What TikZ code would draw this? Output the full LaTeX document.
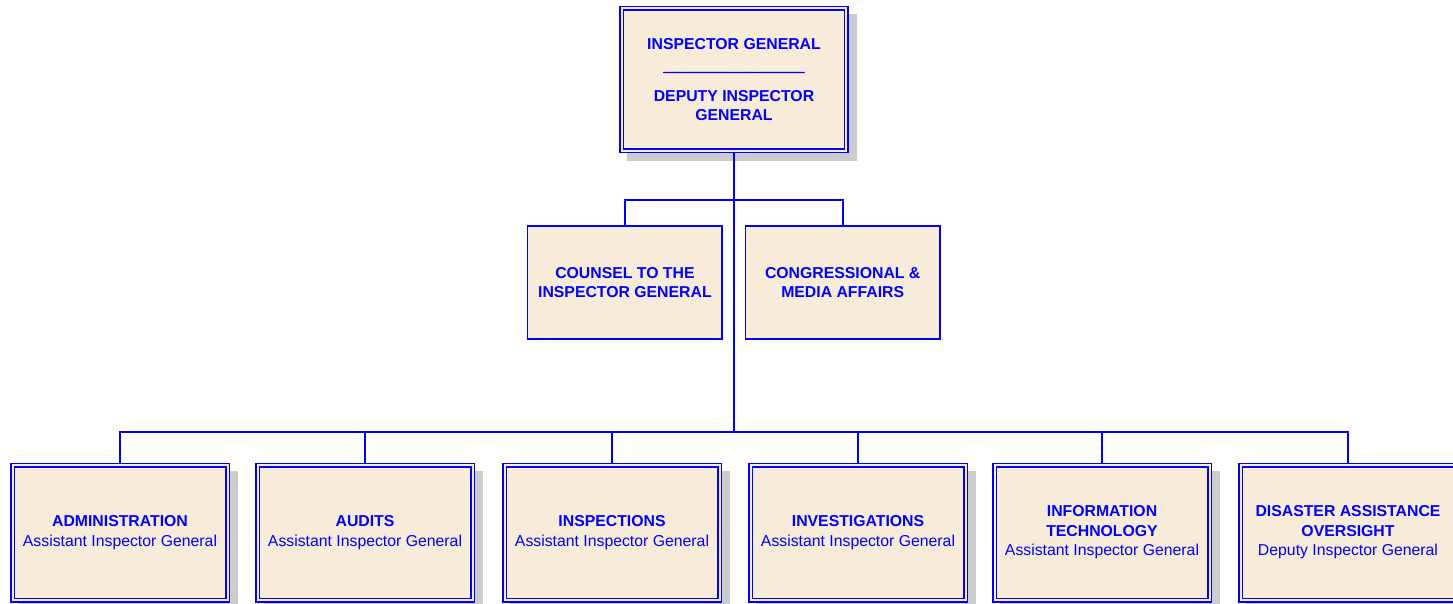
\documentclass[tikz,border=0pt]{standalone}
\usepackage{fontspec}
\setmainfont{Liberation Sans}
\newfontface\ocrulefont{Liberation Sans Bold}[RawFeature={embolden=4}]
\usetikzlibrary{backgrounds}
\definecolor{ocblue}{RGB}{0,0,255}
\definecolor{ocfill}{RGB}{247,236,218}
\definecolor{ocshadow}{RGB}{204,204,204}
\tikzset{
  unitbox/.style={rectangle, inner sep=0pt, outer sep=0pt, fill=ocfill, draw=ocblue, text=ocblue, align=center, font=\fontsize{15.8}{19.5}\selectfont},
  dblbox/.style={unitbox, line width=1.5pt, double=ocfill, double distance=2pt, minimum width=215pt, minimum height=135pt},
  sglbox/.style={unitbox, line width=1.6pt, minimum width=194.5pt, minimum height=113.5pt},
  link/.style={draw=ocblue, line width=1.8pt},
}
\begin{document}
\begin{tikzpicture}[x=1pt,y=-1pt]
\useasboundingbox (0,0) rectangle (1453,604);
\node[dblbox, minimum width=224.4pt, minimum height=142.6pt] (ig) at (734,79.5)
  {\textbf{INSPECTOR GENERAL}\\[2.3pt]{\ocrulefont\_\_\_\_\_\_\_\_\_\_\_\_\_\_\_\_}\\[11pt]\textbf{DEPUTY INSPECTOR}\\\textbf{GENERAL}};
\node[sglbox] (counsel) at (624.9,282.5) {\textbf{COUNSEL TO THE}\\\textbf{INSPECTOR GENERAL}};
\node[sglbox] (cong) at (842.7,282.5) {\textbf{CONGRESSIONAL \&}\\\textbf{MEDIA AFFAIRS}};
\node[dblbox] (b1) at (120,532.5) {\textbf{ADMINISTRATION}\\Assistant Inspector General};
\node[dblbox] (b2) at (365,532.5) {\textbf{AUDITS}\\Assistant Inspector General};
\node[dblbox] (b3) at (612,532.5) {\textbf{INSPECTIONS}\\Assistant Inspector General};
\node[dblbox] (b4) at (858,532.5) {\textbf{INVESTIGATIONS}\\Assistant Inspector General};
\node[dblbox] (b5) at (1102,532.5) {\textbf{INFORMATION}\\\textbf{TECHNOLOGY}\\Assistant Inspector General};
\node[dblbox] (b6) at (1348,532.5) {\textbf{DISASTER ASSISTANCE}\\\textbf{OVERSIGHT}\\Deputy Inspector General};
\coordinate (bus1) at (734,200);
\coordinate (bus2) at (734,432);
\begin{scope}[on background layer]
  \foreach \n in {ig,b1,b2,b3,b4,b5,b6}
    \fill[ocshadow] ([shift={(5.5,5.5)}]\n.north west) rectangle ([shift={(10.5,10.5)}]\n.south east);
  \draw[link] (ig.south) -- (bus2);
  \draw[link] (counsel.north) |- (bus1) -| (cong.north);
  \draw[link] (b1.north) |- (bus2) -| (b6.north);
  \foreach \n in {b2,b3,b4,b5}
    \draw[link] (\n.north) -- (\n.north |- bus2);
\end{scope}
\end{tikzpicture}
\end{document}
